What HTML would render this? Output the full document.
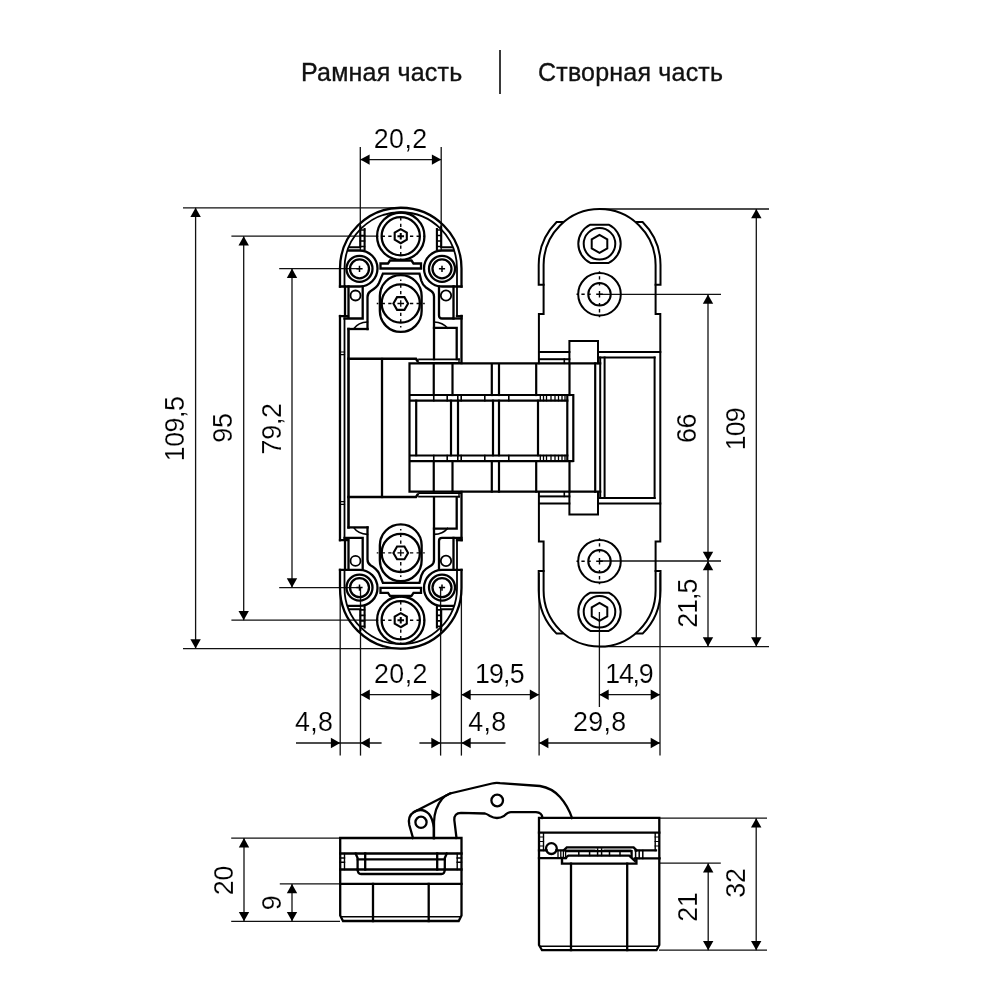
<!DOCTYPE html>
<html lang="ru">
<head>
<meta charset="utf-8">
<title>Рамная часть | Створная часть</title>
<style>
html,body{margin:0;padding:0;background:#fff;}
body{width:1000px;height:1000px;overflow:hidden;position:relative;font-family:"Liberation Sans",sans-serif;}
svg{position:absolute;left:0;top:0;display:block;will-change:transform;}
.title{position:absolute;top:57px;height:30px;line-height:30px;font-size:25px;color:#111;white-space:nowrap;will-change:transform;letter-spacing:0.2px;-webkit-text-stroke:0.35px #111;}
#t1{left:301.3px;}
#t2{left:537.5px;}
#divider{position:absolute;left:499.3px;top:50px;width:1.6px;height:44px;background:#3a3a3a;}
svg text{font-family:"Liberation Sans",sans-serif;fill:#000;stroke:#fff;stroke-width:1.6;}
.thin line{stroke:#111;stroke-width:1.3;fill:none;}
.ar{fill:#000;stroke:none;}
.shape *{stroke:#000;fill:none;stroke-linejoin:miter;stroke-linecap:square;}
.shape [stroke-dasharray]{stroke-linecap:butt;}
.shape .cl{stroke-width:1.2;stroke-dasharray:5 3;}
</style>
</head>
<body>
<div class="title" id="t1">Рамная часть</div>
<div id="divider"></div>
<div class="title" id="t2">Створная часть</div>
<svg width="1000" height="1000" viewBox="0 0 1000 1000">
<g class="thin">
<line x1="360.3" y1="147" x2="360.3" y2="250"/>
<line x1="441.2" y1="147" x2="441.2" y2="250"/>
<line x1="360.3" y1="159.6" x2="441.2" y2="159.6"/>
<polygon class="ar" points="360.3,159.6 369.6,154.4 369.6,164.79999999999998"/>
<polygon class="ar" points="441.2,159.6 431.9,154.4 431.9,164.79999999999998"/>
<line x1="183" y1="207.8" x2="400" y2="207.8"/>
<line x1="183" y1="648.6" x2="406" y2="648.6"/>
<line x1="195.6" y1="207.8" x2="195.6" y2="648.6"/>
<polygon class="ar" points="195.6,207.8 190.4,217.10000000000002 200.79999999999998,217.10000000000002"/>
<polygon class="ar" points="195.6,648.6 190.4,639.3000000000001 200.79999999999998,639.3000000000001"/>
<line x1="231.4" y1="236.2" x2="378" y2="236.2"/>
<line x1="231.4" y1="620.2" x2="378" y2="620.2"/>
<line x1="243.7" y1="236.2" x2="243.7" y2="620.2"/>
<polygon class="ar" points="243.7,236.2 238.5,245.5 248.89999999999998,245.5"/>
<polygon class="ar" points="243.7,620.2 238.5,610.9000000000001 248.89999999999998,610.9000000000001"/>
<line x1="279.2" y1="268.6" x2="359.5" y2="268.6"/>
<line x1="279.2" y1="587.6" x2="359.5" y2="587.6"/>
<line x1="292" y1="268.6" x2="292" y2="587.6"/>
<polygon class="ar" points="292,268.6 286.8,277.90000000000003 297.2,277.90000000000003"/>
<polygon class="ar" points="292,587.6 286.8,578.3000000000001 297.2,578.3000000000001"/>
<line x1="600" y1="209" x2="769" y2="209"/>
<line x1="600" y1="646.6" x2="769" y2="646.6"/>
<line x1="756.3" y1="209" x2="756.3" y2="646.6"/>
<polygon class="ar" points="756.3,209 751.0999999999999,218.3 761.5,218.3"/>
<polygon class="ar" points="756.3,646.6 751.0999999999999,637.3000000000001 761.5,637.3000000000001"/>
<line x1="600" y1="294.4" x2="721" y2="294.4"/>
<line x1="600" y1="561" x2="721" y2="561"/>
<line x1="708" y1="294.4" x2="708" y2="646.6"/>
<polygon class="ar" points="708,294.4 702.8,303.7 713.2,303.7"/>
<polygon class="ar" points="708,561 702.8,551.7 713.2,551.7"/>
<polygon class="ar" points="708,561 702.8,570.3 713.2,570.3"/>
<polygon class="ar" points="708,646.6 702.8,637.3000000000001 713.2,637.3000000000001"/>
<line x1="340.2" y1="590" x2="340.2" y2="755.6"/>
<line x1="360.5" y1="587" x2="360.5" y2="755.6"/>
<line x1="440.6" y1="587" x2="440.6" y2="755.6"/>
<line x1="461.4" y1="590" x2="461.4" y2="755.6"/>
<line x1="539.1" y1="573" x2="539.1" y2="755.6"/>
<line x1="599.4" y1="612" x2="599.4" y2="707"/>
<line x1="660" y1="573" x2="660" y2="755.6"/>
<line x1="360.5" y1="694.7" x2="440.6" y2="694.7"/>
<polygon class="ar" points="360.5,694.7 369.8,689.5 369.8,699.9000000000001"/>
<polygon class="ar" points="440.6,694.7 431.3,689.5 431.3,699.9000000000001"/>
<line x1="461.4" y1="694.7" x2="539.1" y2="694.7"/>
<polygon class="ar" points="461.4,694.7 470.7,689.5 470.7,699.9000000000001"/>
<polygon class="ar" points="539.1,694.7 529.8000000000001,689.5 529.8000000000001,699.9000000000001"/>
<line x1="599.4" y1="694.7" x2="660" y2="694.7"/>
<polygon class="ar" points="599.4,694.7 608.6999999999999,689.5 608.6999999999999,699.9000000000001"/>
<polygon class="ar" points="660,694.7 650.7,689.5 650.7,699.9000000000001"/>
<line x1="296" y1="743" x2="381.6" y2="743"/>
<polygon class="ar" points="340.2,743 330.9,737.8 330.9,748.2"/>
<polygon class="ar" points="360.5,743 369.8,737.8 369.8,748.2"/>
<line x1="419.4" y1="743" x2="505.5" y2="743"/>
<polygon class="ar" points="440.6,743 431.3,737.8 431.3,748.2"/>
<polygon class="ar" points="461.4,743 470.7,737.8 470.7,748.2"/>
<line x1="539.1" y1="743" x2="660" y2="743"/>
<polygon class="ar" points="539.1,743 548.4,737.8 548.4,748.2"/>
<polygon class="ar" points="660,743 650.7,737.8 650.7,748.2"/>
<line x1="231.2" y1="838.1" x2="340" y2="838.1"/>
<line x1="231.2" y1="921.3" x2="340" y2="921.3"/>
<line x1="279.8" y1="883.9" x2="340" y2="883.9"/>
<line x1="244" y1="838.1" x2="244" y2="921.3"/>
<polygon class="ar" points="244,838.1 238.8,847.4 249.2,847.4"/>
<polygon class="ar" points="244,921.3 238.8,912.0 249.2,912.0"/>
<line x1="292" y1="883.9" x2="292" y2="921.3"/>
<polygon class="ar" points="292,883.9 286.8,893.1999999999999 297.2,893.1999999999999"/>
<polygon class="ar" points="292,921.3 286.8,912.0 297.2,912.0"/>
<line x1="659" y1="818.2" x2="767" y2="818.2"/>
<line x1="659" y1="950.2" x2="767" y2="950.2"/>
<line x1="659" y1="863.2" x2="720.8" y2="863.2"/>
<line x1="756.2" y1="818.2" x2="756.2" y2="950.2"/>
<polygon class="ar" points="756.2,818.2 751.0,827.5 761.4000000000001,827.5"/>
<polygon class="ar" points="756.2,950.2 751.0,940.9000000000001 761.4000000000001,940.9000000000001"/>
<line x1="708.2" y1="863.2" x2="708.2" y2="950.2"/>
<polygon class="ar" points="708.2,863.2 703.0,872.5 713.4000000000001,872.5"/>
<polygon class="ar" points="708.2,950.2 703.0,940.9000000000001 713.4000000000001,940.9000000000001"/>
</g>
<text class="dim" transform="translate(400.73 148.2) scale(0.1)" font-size="268" text-anchor="middle" letter-spacing="4.5">20,2</text>
<text class="dim" transform="translate(183.6 428.9) rotate(-90) scale(0.1)" font-size="268" text-anchor="middle" letter-spacing="-4.5">109,5</text>
<text class="dim" transform="translate(232.3 428) rotate(-90) scale(0.1)" font-size="268" text-anchor="middle" letter-spacing="-2.5">95</text>
<text class="dim" transform="translate(280.7 428.8) rotate(-90) scale(0.1)" font-size="268" text-anchor="middle" letter-spacing="-2.5">79,2</text>
<text class="dim" transform="translate(695.8 428.4) rotate(-90) scale(0.1)" font-size="268" text-anchor="middle" letter-spacing="-2.5">66</text>
<text class="dim" transform="translate(745 429.2) rotate(-90) scale(0.1)" font-size="268" text-anchor="middle" letter-spacing="-9.5">109</text>
<text class="dim" transform="translate(696.8 603.7) rotate(-90) scale(0.1)" font-size="268" text-anchor="middle" letter-spacing="-10.5">21,5</text>
<text class="dim" transform="translate(400.93 683.0) scale(0.1)" font-size="268" text-anchor="middle" letter-spacing="4.5">20,2</text>
<text class="dim" transform="translate(499.4 683.0) scale(0.1)" font-size="268" text-anchor="middle" letter-spacing="-8.0">19,5</text>
<text class="dim" transform="translate(628.88 683.0) scale(0.1)" font-size="268" text-anchor="middle" letter-spacing="-12.5">14,9</text>
<text class="dim" transform="translate(314.07 731.1) scale(0.1)" font-size="268" text-anchor="middle" letter-spacing="3.5">4,8</text>
<text class="dim" transform="translate(487.48 731.1) scale(0.1)" font-size="268" text-anchor="middle" letter-spacing="3.5">4,8</text>
<text class="dim" transform="translate(599.67 731.1) scale(0.1)" font-size="268" text-anchor="middle" letter-spacing="3.5">29,8</text>
<text class="dim" transform="translate(233 880.6) rotate(-90) scale(0.1)" font-size="268" text-anchor="middle" letter-spacing="-2.5">20</text>
<text class="dim" transform="translate(281 902.8) rotate(-90) scale(0.1)" font-size="268" text-anchor="middle" letter-spacing="-2.5">9</text>
<text class="dim" transform="translate(696.5 907) rotate(-90) scale(0.1)" font-size="268" text-anchor="middle" letter-spacing="-2.5">21</text>
<text class="dim" transform="translate(745 883) rotate(-90) scale(0.1)" font-size="268" text-anchor="middle" letter-spacing="-2.5">32</text>
<g class="shape">
<path d="M340,316.2H348 M345,316V286.5 M340,286.5V268.5A60.75,60.75 0 0 1 461.5,268.5V286.5" stroke-width="2.3"/>
<path d="M457,316.2H461.7" stroke-width="2.3"/>
<path d="M344.5,286.5V268.5A56.25,56.25 0 0 1 457,268.5V316" stroke-width="1.8"/>
<circle cx="400.75" cy="236.2" r="23.7" stroke-width="2.3"/>
<circle cx="400.75" cy="236.2" r="19.1" stroke-width="2.3"/>
<polygon points="400.75,229.20 394.69,232.70 394.69,239.70 400.75,243.20 406.81,239.70 406.81,232.70" stroke-width="2.1"/>
<path d="M397.45,236.2H404.05M400.75,232.89999999999998V239.5" stroke-width="2.0" style="stroke-linecap:butt"/>
<path d="M391.55,236.2H376.75M409.95,236.2H424.75M400.75,227.0V212.2M400.75,245.39999999999998V260.2" stroke-width="1.4" stroke-dasharray="3.3 3.3"/>
<circle cx="359.5" cy="268.8" r="13" stroke-width="2.3"/>
<circle cx="359.5" cy="268.8" r="9.5" stroke-width="2.3"/>
<path d="M356.4,268.8H362.6M359.5,265.7V271.90000000000003" stroke-width="1.5" style="stroke-linecap:butt"/>
<circle cx="442" cy="268.8" r="13" stroke-width="2.3"/>
<circle cx="442" cy="268.8" r="9.5" stroke-width="2.3"/>
<path d="M438.9,268.8H445.1M442,265.7V271.90000000000003" stroke-width="1.5" style="stroke-linecap:butt"/>
<path d="M348.5,250.5H359.5A18,18 0 0 1 359.5,286.5H340" stroke-width="2.3"/>
<path d="M453,250.5H442A18,18 0 0 0 442,286.5H461.5" stroke-width="2.3"/>
<path d="M349.5,247.2H360.3V226.5 M364.6,249.5V229" stroke-width="2.1"/>
<path d="M452,247.2H441.2V226.5 M436.9,249.5V229" stroke-width="2.1"/>
<path d="M360.5,230H364.5M360.5,235.5H364.5M360.5,241H364.5M360.5,246.5H364.5" stroke-width="1.6"/>
<path d="M437,230H441M437,235.5H441M437,241H441M437,246.5H441" stroke-width="1.6"/>
<path d="M380.5,268.5V263.5H388L390,260.5H411.5L413.5,263.5H421V268.5Z" stroke-width="2.3"/>
<path d="M367.5,329V297Q367.5,293.2 370.5,291.2Q377,287.5 379,283L382.9,273.6H419.5L421.3,280.8Q422.5,285 426,287.5L431.5,291.2Q434,293 434,296.5V359" stroke-width="2.3"/>
<path d="M348.5,329H367.5" stroke-width="2.3"/>
<path d="M379.85,311.1V296A20.9,20.9 0 0 1 421.65,296V311.1A20.9,20.9 0 0 1 379.85,311.1Z" stroke-width="2.3"/>
<circle cx="400.75" cy="303.5" r="19.1" stroke-width="2.3"/>
<polygon points="408.10,303.50 404.43,297.13 397.07,297.13 393.40,303.50 397.07,309.87 404.43,309.87" stroke-width="2.1"/>
<path d="M397.45,303.5H404.05M400.75,300.2V306.8" stroke-width="1.3" style="stroke-linecap:butt"/>
<path d="M391.55,303.5H376.75M409.95,303.5H424.75M400.75,294.3V279.5M400.75,312.7V327.5" stroke-width="1.4" stroke-dasharray="3.3 3.3"/>
<path d="M348.5,286.5V318.5 M344.5,318.5H362.7V286.5" stroke-width="2.3"/>
<circle cx="355.5" cy="295.5" r="5" stroke-width="1.8"/>
<path d="M453.5,286.5V318.5H442Q439,318.5 439,315.5V286.5" stroke-width="2.3"/>
<path d="M453.5,318.5H461.5" stroke-width="2.3"/>
<circle cx="446" cy="295.5" r="5.2" stroke-width="1.8"/>
<path d="M354,328.5Q358,322.5 367.5,322" stroke-width="1.6"/>
<path d="M447.5,328Q443,322.5 434,322" stroke-width="1.6"/>
<path d="M434,327.8H456.7V359" stroke-width="2.3"/>
<g transform="matrix(1 0 0 -1 0 856.4)">
<path d="M340,316.2H348 M345,316V286.5 M340,286.5V268.5A60.75,60.75 0 0 1 461.5,268.5V286.5" stroke-width="2.3"/>
<path d="M457,316.2H461.7" stroke-width="2.3"/>
<path d="M344.5,286.5V268.5A56.25,56.25 0 0 1 457,268.5V316" stroke-width="1.8"/>
<circle cx="400.75" cy="236.2" r="23.7" stroke-width="2.3"/>
<circle cx="400.75" cy="236.2" r="19.1" stroke-width="2.3"/>
<polygon points="400.75,229.20 394.69,232.70 394.69,239.70 400.75,243.20 406.81,239.70 406.81,232.70" stroke-width="2.1"/>
<path d="M397.45,236.2H404.05M400.75,232.89999999999998V239.5" stroke-width="2.0" style="stroke-linecap:butt"/>
<path d="M391.55,236.2H376.75M409.95,236.2H424.75M400.75,227.0V212.2M400.75,245.39999999999998V260.2" stroke-width="1.4" stroke-dasharray="3.3 3.3"/>
<circle cx="359.5" cy="268.8" r="13" stroke-width="2.3"/>
<circle cx="359.5" cy="268.8" r="9.5" stroke-width="2.3"/>
<path d="M356.4,268.8H362.6M359.5,265.7V271.90000000000003" stroke-width="1.5" style="stroke-linecap:butt"/>
<circle cx="442" cy="268.8" r="13" stroke-width="2.3"/>
<circle cx="442" cy="268.8" r="9.5" stroke-width="2.3"/>
<path d="M438.9,268.8H445.1M442,265.7V271.90000000000003" stroke-width="1.5" style="stroke-linecap:butt"/>
<path d="M348.5,250.5H359.5A18,18 0 0 1 359.5,286.5H340" stroke-width="2.3"/>
<path d="M453,250.5H442A18,18 0 0 0 442,286.5H461.5" stroke-width="2.3"/>
<path d="M349.5,247.2H360.3V226.5 M364.6,249.5V229" stroke-width="2.1"/>
<path d="M452,247.2H441.2V226.5 M436.9,249.5V229" stroke-width="2.1"/>
<path d="M360.5,230H364.5M360.5,235.5H364.5M360.5,241H364.5M360.5,246.5H364.5" stroke-width="1.6"/>
<path d="M437,230H441M437,235.5H441M437,241H441M437,246.5H441" stroke-width="1.6"/>
<path d="M380.5,268.5V263.5H388L390,260.5H411.5L413.5,263.5H421V268.5Z" stroke-width="2.3"/>
<path d="M367.5,329V297Q367.5,293.2 370.5,291.2Q377,287.5 379,283L382.9,273.6H419.5L421.3,280.8Q422.5,285 426,287.5L431.5,291.2Q434,293 434,296.5V359" stroke-width="2.3"/>
<path d="M348.5,329H367.5" stroke-width="2.3"/>
<path d="M379.85,311.1V296A20.9,20.9 0 0 1 421.65,296V311.1A20.9,20.9 0 0 1 379.85,311.1Z" stroke-width="2.3"/>
<circle cx="400.75" cy="303.5" r="19.1" stroke-width="2.3"/>
<polygon points="408.10,303.50 404.43,297.13 397.07,297.13 393.40,303.50 397.07,309.87 404.43,309.87" stroke-width="2.1"/>
<path d="M397.45,303.5H404.05M400.75,300.2V306.8" stroke-width="1.3" style="stroke-linecap:butt"/>
<path d="M391.55,303.5H376.75M409.95,303.5H424.75M400.75,294.3V279.5M400.75,312.7V327.5" stroke-width="1.4" stroke-dasharray="3.3 3.3"/>
<path d="M348.5,286.5V318.5 M344.5,318.5H362.7V286.5" stroke-width="2.3"/>
<circle cx="355.5" cy="295.5" r="5" stroke-width="1.8"/>
<path d="M453.5,286.5V318.5H442Q439,318.5 439,315.5V286.5" stroke-width="2.3"/>
<path d="M453.5,318.5H461.5" stroke-width="2.3"/>
<circle cx="446" cy="295.5" r="5.2" stroke-width="1.8"/>
<path d="M354,328.5Q358,322.5 367.5,322" stroke-width="1.6"/>
<path d="M447.5,328Q443,322.5 434,322" stroke-width="1.6"/>
<path d="M434,327.8H456.7V359" stroke-width="2.3"/>
</g>
<path d="M340,316V540.2" stroke-width="2.3"/>
<path d="M344.5,318.5V537.9" stroke-width="1.8"/>
<path d="M348.5,329V527.4" stroke-width="2.6"/>
<path d="M382,359V497" stroke-width="2.3"/>
<path d="M461.5,316V363 M461.5,492V540.2" stroke-width="2.3"/>
<path d="M340,352H344.5M340,354.7H344.5M340,501.6H344.5M340,504.3H344.5" stroke-width="1.2"/>
<path d="M348.5,358.8H416L417.5,361 M348.5,497H416L417.5,494.8" stroke-width="2.6"/>
<path d="M419,359.3H459M419,362.8H461 M419,496.6H459M419,493.1H461" stroke-width="1.7"/>
<path d="M459,359V363M459,493V497" stroke-width="1.4"/>
<line x1="433.75" y1="364.6" x2="433.75" y2="395" stroke-width="2.2"/>
<line x1="452.5" y1="364.6" x2="452.5" y2="395" stroke-width="2.2"/>
<line x1="491.8" y1="364.6" x2="491.8" y2="395" stroke-width="2.2"/>
<line x1="499" y1="364.6" x2="499" y2="395" stroke-width="2.2"/>
<line x1="536.2" y1="364.6" x2="536.2" y2="395" stroke-width="2.2"/>
<line x1="569.5" y1="364.6" x2="569.5" y2="395" stroke-width="2.2"/>
<path d="M410.3,395H572.5 M410.3,400.7H567.3" stroke-width="2.2"/>
<line x1="433.75" y1="395" x2="433.75" y2="400.7" stroke-width="1.6"/>
<line x1="447.2" y1="395" x2="447.2" y2="400.7" stroke-width="1.6"/>
<line x1="457.8" y1="395" x2="457.8" y2="400.7" stroke-width="1.6"/>
<line x1="461.2" y1="395" x2="461.2" y2="400.7" stroke-width="1.6"/>
<line x1="484.8" y1="395" x2="484.8" y2="400.7" stroke-width="1.6"/>
<line x1="508.8" y1="395" x2="508.8" y2="400.7" stroke-width="1.6"/>
<line x1="540.3" y1="395" x2="540.3" y2="400.7" stroke-width="1.3"/>
<line x1="543.5" y1="395" x2="543.5" y2="400.7" stroke-width="1.3"/>
<line x1="546.5" y1="395" x2="546.5" y2="400.7" stroke-width="1.3"/>
<line x1="551" y1="395" x2="551" y2="400.7" stroke-width="1.3"/>
<line x1="555" y1="395" x2="555" y2="400.7" stroke-width="1.3"/>
<line x1="558.5" y1="395" x2="558.5" y2="400.7" stroke-width="1.3"/>
<line x1="562" y1="395" x2="562" y2="400.7" stroke-width="1.3"/>
<line x1="565" y1="395" x2="565" y2="400.7" stroke-width="1.3"/>
<g transform="matrix(1 0 0 -1 0 856.2)">
<line x1="433.75" y1="364.6" x2="433.75" y2="395" stroke-width="2.2"/>
<line x1="452.5" y1="364.6" x2="452.5" y2="395" stroke-width="2.2"/>
<line x1="491.8" y1="364.6" x2="491.8" y2="395" stroke-width="2.2"/>
<line x1="499" y1="364.6" x2="499" y2="395" stroke-width="2.2"/>
<line x1="536.2" y1="364.6" x2="536.2" y2="395" stroke-width="2.2"/>
<line x1="569.5" y1="364.6" x2="569.5" y2="395" stroke-width="2.2"/>
<path d="M410.3,395H572.5 M410.3,400.7H567.3" stroke-width="2.2"/>
<line x1="433.75" y1="395" x2="433.75" y2="400.7" stroke-width="1.6"/>
<line x1="447.2" y1="395" x2="447.2" y2="400.7" stroke-width="1.6"/>
<line x1="457.8" y1="395" x2="457.8" y2="400.7" stroke-width="1.6"/>
<line x1="461.2" y1="395" x2="461.2" y2="400.7" stroke-width="1.6"/>
<line x1="484.8" y1="395" x2="484.8" y2="400.7" stroke-width="1.6"/>
<line x1="508.8" y1="395" x2="508.8" y2="400.7" stroke-width="1.6"/>
<line x1="540.3" y1="395" x2="540.3" y2="400.7" stroke-width="1.3"/>
<line x1="543.5" y1="395" x2="543.5" y2="400.7" stroke-width="1.3"/>
<line x1="546.5" y1="395" x2="546.5" y2="400.7" stroke-width="1.3"/>
<line x1="551" y1="395" x2="551" y2="400.7" stroke-width="1.3"/>
<line x1="555" y1="395" x2="555" y2="400.7" stroke-width="1.3"/>
<line x1="558.5" y1="395" x2="558.5" y2="400.7" stroke-width="1.3"/>
<line x1="562" y1="395" x2="562" y2="400.7" stroke-width="1.3"/>
<line x1="565" y1="395" x2="565" y2="400.7" stroke-width="1.3"/>
</g>
<path d="M600.2,363.4H409.5V491.7H600.2" stroke-width="2.2"/>
<line x1="416.2" y1="400.7" x2="416.2" y2="455.2" stroke-width="2.2"/>
<line x1="451" y1="400.7" x2="451" y2="455.2" stroke-width="2.2"/>
<line x1="458" y1="400.7" x2="458" y2="455.2" stroke-width="2.2"/>
<line x1="493" y1="400.7" x2="493" y2="455.2" stroke-width="2.2"/>
<line x1="499" y1="400.7" x2="499" y2="455.2" stroke-width="2.2"/>
<line x1="538" y1="400.7" x2="538" y2="455.2" stroke-width="2.2"/>
<path d="M567.3,395V461 M573.3,395V461" stroke-width="2.2"/>
<path d="M595.2,363.4V491.7" stroke-width="2.2"/>
<path d="M538.9,363.3V314.1H543.6V265.1A56,56 0 0 1 655.6,265.1V314.1H660.3V352" stroke-width="2.0"/>
<path d="M543.6,284.7H538.7V265.1A60.9,60.9 0 0 1 556.6,222H562.5" stroke-width="2.0"/>
<path d="M655.6,284.7H660.5V265.1A60.9,60.9 0 0 0 642.6,222H636.7" stroke-width="2.0"/>
<path d="M590.30,224.70000000000002H608.70A21.2,21.2 0 0 1 608.70,262.90000000000003H590.30A21.2,21.2 0 0 1 590.30,224.70000000000002Z" stroke-width="2.0"/>
<circle cx="599.5" cy="243.8" r="15.8" stroke-width="2.0"/>
<polygon points="599.50,234.80 591.71,239.30 591.71,248.30 599.50,252.80 607.29,248.30 607.29,239.30" stroke-width="2.0"/>
<circle cx="599.5" cy="294.3" r="21.3" stroke-width="2.0"/>
<circle cx="599.5" cy="294.3" r="11.25" stroke-width="2.0"/>
<path d="M596.2,294.3H602.8M599.5,291.0V297.6" stroke-width="1.4" style="stroke-linecap:butt"/>
<path d="M590.7,294.3H575.5M599.5,285.5V270.3M599.5,303.1V318.3" stroke-width="1.4" stroke-dasharray="2.2 3.8 3.3 2.7 2.2 20"/>
<path d="M540,352.1H569.4 M598,352.1H659.5" stroke-width="2.0"/>
<path d="M540,359.2H569.4" stroke-width="2.0"/>
<path d="M569.4,363.3V341H598V363.3" stroke-width="2.0"/>
<path d="M564.3,359.2V363.3" stroke-width="1.6"/>
<path d="M599.5,357.6H654.6" stroke-width="2.0"/>
<g transform="matrix(1 0 0 -1 0 855.6)">
<path d="M538.9,363.3V314.1H543.6V265.1A56,56 0 0 1 655.6,265.1V314.1H660.3V352" stroke-width="2.0"/>
<path d="M543.6,284.7H538.7V265.1A60.9,60.9 0 0 1 556.6,222H562.5" stroke-width="2.0"/>
<path d="M655.6,284.7H660.5V265.1A60.9,60.9 0 0 0 642.6,222H636.7" stroke-width="2.0"/>
<path d="M590.30,224.70000000000002H608.70A21.2,21.2 0 0 1 608.70,262.90000000000003H590.30A21.2,21.2 0 0 1 590.30,224.70000000000002Z" stroke-width="2.0"/>
<circle cx="599.5" cy="243.8" r="15.8" stroke-width="2.0"/>
<polygon points="599.50,234.80 591.71,239.30 591.71,248.30 599.50,252.80 607.29,248.30 607.29,239.30" stroke-width="2.0"/>
<circle cx="599.5" cy="294.3" r="21.3" stroke-width="2.0"/>
<circle cx="599.5" cy="294.3" r="11.25" stroke-width="2.0"/>
<path d="M596.2,294.3H602.8M599.5,291.0V297.6" stroke-width="1.4" style="stroke-linecap:butt"/>
<path d="M590.7,294.3H575.5M599.5,285.5V270.3M599.5,303.1V318.3" stroke-width="1.4" stroke-dasharray="2.2 3.8 3.3 2.7 2.2 20"/>
<path d="M540,352.1H569.4 M598,352.1H659.5" stroke-width="2.0"/>
<path d="M540,359.2H569.4" stroke-width="2.0"/>
<path d="M569.4,363.3V341H598V363.3" stroke-width="2.0"/>
<path d="M564.3,359.2V363.3" stroke-width="1.6"/>
<path d="M599.5,357.6H654.6" stroke-width="2.0"/>
</g>
<path d="M604.6,357.6V498 M654.6,357.6V498 M600.2,357.6V498 M660.3,352V503.6" stroke-width="2.0"/>
<path d="M340.2,838H461.5V915.5L458.7,921H343L340.2,915.5Z" stroke-width="2.3"/>
<path d="M340.2,853.5H461.5M340.2,869.5H461.5M340.2,883.8H461.5" stroke-width="2.3"/>
<path d="M341.5,916.7H460.2" stroke-width="1.6"/>
<path d="M373,883.8V921M428.7,883.8V921" stroke-width="2.3"/>
<path d="M355.6,853.5L357.6,858V869.5M365.2,853.5V869.5M437.2,853.5V869.5M446.8,853.5L444.8,858V869.5" stroke-width="2.3"/>
<path d="M357.8,859.3H444.6" stroke-width="2.3"/>
<path d="M357.6,869.5Q357.8,874 361,874H441.5Q444.6,874 444.8,869.5" stroke-width="2.3"/>
<path d="M344.5,853.5V869.5M457.2,853.5V869.5" stroke-width="1.4"/>
<path d="M340.2,858H344.5M340.2,862.3H344.5M457.2,858H461.5M457.2,862.3H461.5" stroke-width="1.4"/>
<circle cx="421" cy="822.3" r="5.6" stroke-width="2.3"/>
<circle cx="497.2" cy="800.5" r="5.8" stroke-width="2.3"/>
<path d="M413,838L409.3,825Q407.5,816 414,812L450,793.5L492,783.5Q496,782.6 500,783.2L540,786Q552,788 560,797Q568,806 572,818" stroke-width="2.3"/>
<path d="M414,812Q422,807 429,814Q433,819 433.8,828V838" stroke-width="2.3"/>
<path d="M434,838V822Q434.5,808 442,799Q446,795 450,793.5" stroke-width="2.3"/>
<path d="M456.5,838L454.3,820Q454,813 461,812.8L485,813.5Q487,814 490,816Q497,820 504,816Q508,812.2 511,812.2H536Q542,812.5 542.5,818" stroke-width="2.3"/>
<path d="M539,817.8H659.3V945L656.5,950.2H542L539,945Z" stroke-width="2.3"/>
<path d="M539,832.6H659.3" stroke-width="2.3"/>
<path d="M540.5,946.3H658" stroke-width="1.6"/>
<path d="M543.5,832.6V850.5M655.2,832.6V850.5" stroke-width="1.4"/>
<path d="M539,837H543.5M539,841.5H543.5M539,846H543.5M655.2,837H659.3M655.2,841.5H659.3M655.2,846H659.3" stroke-width="1.2"/>
<circle cx="551.4" cy="848.6" r="5.4" stroke-width="2.3"/>
<path d="M539,850.4H546.6M556.3,850.4H565.4M635.6,850.4H656" stroke-width="2.3"/>
<path d="M539,858.2H566M634.8,858.4H659.6" stroke-width="2.3"/>
<path d="M558,850.4V858M560.8,850.4V858M563.4,850.4V858M565.6,850.4V858" stroke-width="1.3"/>
<path d="M635.6,850.4V858.4M639.2,850.4V858.4M642.8,850.4V858.4" stroke-width="1.5"/>
<path d="M563.8,850.4L566.8,847.4H633.6L636.6,850.4" stroke-width="2.4"/>
<path d="M567.5,849.4H595M604,849.4H631" stroke-width="0.9" style="stroke:#777"/>
<path d="M566.5,851.2H631.6V856 M565.2,858L568.4,855.6H629.2L634.8,860.8" stroke-width="2.3"/>
<path d="M578.8,851V855.6M589.6,851V855.6M597.6,849V855.6M601.6,849V855.6M609.5,851V855.6M620,851V855.6" stroke-width="1.5"/>
<path d="M562,858V863.6H636.4V858.4" stroke-width="2.4"/>
<path d="M571,863.6V950M627.2,863.6V950" stroke-width="2.3"/>
</g>
</svg>
</body>
</html>
